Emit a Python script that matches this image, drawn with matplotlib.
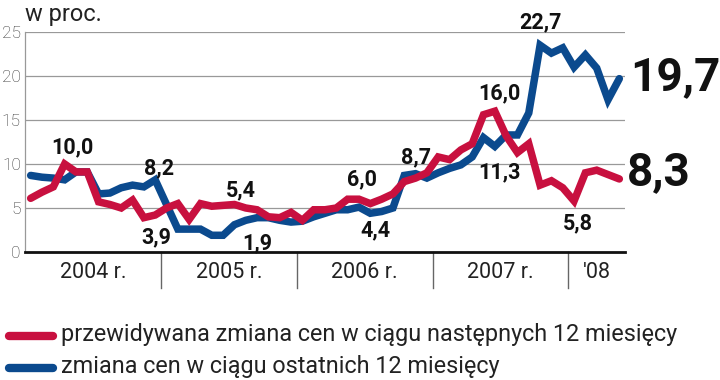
import numpy as np
import matplotlib
matplotlib.use('Agg')
import matplotlib.pyplot as plt
from matplotlib.lines import Line2D
import matplotlib.transforms as mtransforms

plt.rcParams['font.family'] = ['Roboto', 'DejaVu Sans']

# monthly values, Jan 2004 - May 2008
expected = [6.1, 6.8, 7.4, 10.0, 9.1, 9.1, 5.7, 5.4, 5.0, 5.9, 3.9, 4.2,
            5.0, 5.5, 3.7, 5.5, 5.2, 5.3, 5.4, 5.0, 4.8, 4.0, 3.9, 4.5,
            3.6, 4.8, 4.8, 5.0, 6.0, 6.0, 5.5, 6.0, 6.6, 8.0, 8.4, 9.0,
            10.8, 10.5, 11.6, 12.3, 15.6, 16.0, 13.2, 11.3, 12.3, 7.6, 8.1, 7.3,
            5.8, 9.0, 9.3, 8.8, 8.3]
past = [8.7, 8.5, 8.4, 8.2, 9.1, 9.1, 6.6, 6.7, 7.3, 7.6, 7.4, 8.2,
        5.4, 2.6, 2.6, 2.6, 1.9, 1.9, 3.1, 3.6, 3.9, 3.9, 3.6, 3.4,
        3.5, 4.0, 4.4, 4.8, 4.8, 5.1, 4.4, 4.6, 5.0, 8.7, 8.9, 8.4,
        9.0, 9.5, 9.9, 10.8, 13.0, 12.0, 13.3, 13.3, 15.8, 23.5, 22.6, 23.2,
        21.0, 22.4, 20.9, 17.3, 19.7]

year_labels = ['2004 r.', '2005 r.', '2006 r.', '2007 r.', "'08"]
year_pos = [6, 18, 30, 42, 50.5]
year_breaks = [12, 24, 36, 48]
yticks = [0, 5, 10, 15, 20, 25]

# value labels: (text, x in months, y)
notes = [('10,0', 4.2, 11.9), ('8,2', 11.8, 9.5), ('3,9', 11.6, 1.7),
         ('5,4', 19.1, 7.0), ('1,9', 20.5, 1.0), ('6,0', 29.8, 8.2),
         ('4,4', 31.0, 2.5), ('8,7', 34.5, 10.8), ('16,0', 41.9, 18.0),
         ('11,3', 41.9, 9.1), ('22,7', 45.5, 26.1), ('5,8', 48.8, 3.3)]

red = '#C8103F'
blue = '#0B4A8E'

fig = plt.figure(figsize=(7.2, 3.8), dpi=100)
ax = fig.add_axes([25/720, 1 - 252/380, 600/720, 220/380])

x = np.arange(len(past)) + 0.5
ax.plot(x, past, color=blue, lw=5.4, solid_joinstyle='miter', solid_capstyle='round', zorder=3)
ax.plot(x, expected, color=red, lw=5.4, solid_joinstyle='miter', solid_capstyle='round', zorder=4)

ax.set_xlim(0, 53)
ax.set_ylim(0, 25)
ax.set_yticks(yticks)
ax.set_yticklabels([str(t) for t in yticks], fontsize=12.5, color='#333333', fontweight='light')
ax.set_xticks([])
ax.tick_params(axis='y', length=0, pad=3)
for t in yticks[1:]:
    ax.axhline(t, color='#999999', lw=0.9, zorder=1)

for s in ['top', 'right']:
    ax.spines[s].set_visible(False)
ax.spines['left'].set_color('#999999')
ax.spines['left'].set_linewidth(0.9)
ax.spines['bottom'].set_color('#111111')
ax.spines['bottom'].set_linewidth(2)

trans = mtransforms.blended_transform_factory(ax.transData, ax.transAxes)
for b in year_breaks:
    ax.plot([b, b], [0, -0.165], color='#666666', lw=1, transform=trans, clip_on=False)
for lab, p in zip(year_labels, year_pos):
    ax.text(p, -0.095, lab, transform=trans, ha='center', va='center', fontsize=15.5, color='#222222')

for txt, tx, ty in notes:
    ax.text(tx, ty, txt, ha='center', va='center', fontsize=15.5, fontweight='bold',
            color='#111111', clip_on=False, zorder=5)

ax.text(53.5, 19.9, '19,7', ha='left', va='center', fontsize=33, fontweight='bold', color='#111111', clip_on=False)
ax.text(53.2, 9.1, '8,3', ha='left', va='center', fontsize=33, fontweight='bold', color='#111111', clip_on=False)

fig.text(25/720, 1 - 15/380, 'w proc.', ha='left', va='center', fontsize=17, color='#222222')

# legend drawn by hand
fig.add_artist(Line2D([9/720, 53/720], [1 - 336/380, 1 - 336/380], color=red, lw=6, solid_capstyle='round'))
fig.add_artist(Line2D([9/720, 53/720], [1 - 368/380, 1 - 368/380], color=blue, lw=6, solid_capstyle='round'))
fig.text(61/720, 1 - 334/380, 'przewidywana zmiana cen w ciągu następnych 12 miesięcy',
         ha='left', va='center', fontsize=16.8, color='#222222')
fig.text(61/720, 1 - 366/380, 'zmiana cen w ciągu ostatnich 12 miesięcy',
         ha='left', va='center', fontsize=16.8, color='#222222')

fig.savefig('out.png', dpi=100)
